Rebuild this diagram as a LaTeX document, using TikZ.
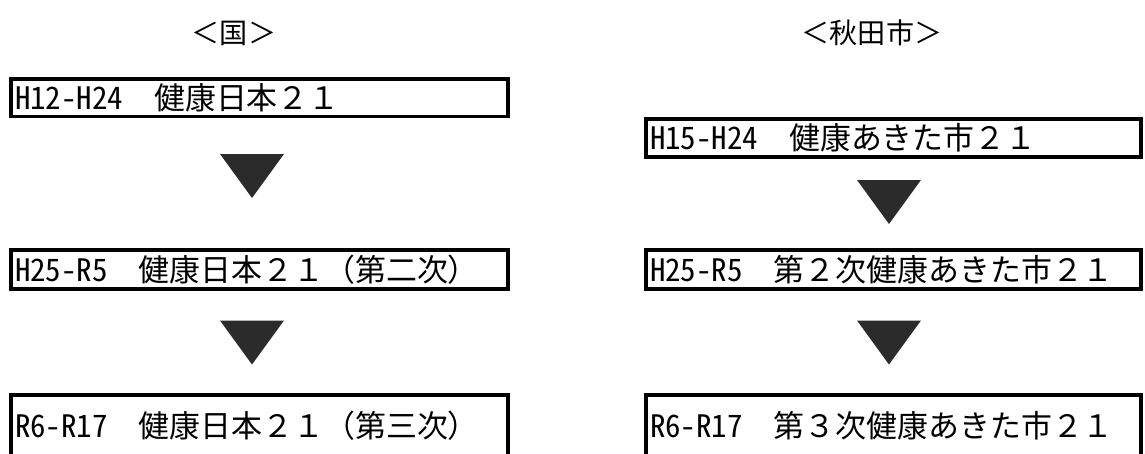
\documentclass[tikz,border=0pt]{standalone}
\usepackage{fontspec}
\setmainfont{Noto Sans CJK JP}
\newfontfamily\hankaku[CharacterWidth=Half]{Noto Sans CJK JP}
\newcommand{\hw}[1]{{\hankaku #1}}
\definecolor{markgray}{RGB}{43,43,43}
\pgfdeclarelayer{nodelayer}
\pgfdeclarelayer{edgelayer}
\pgfsetlayers{edgelayer,nodelayer,main}
\tikzstyle{plan box}=[draw=black, line width=0.07cm, shape=rectangle, inner xsep=0.08cm, inner ysep=0pt, font=\fontsize{17.6pt}{20pt}\selectfont]
\tikzstyle{left box}=[style=plan box, minimum width=9.94cm, text width=9.78cm]
\tikzstyle{right box}=[style=plan box, minimum width=9.9cm, text width=9.74cm]
\tikzstyle{title}=[font=\fontsize{16pt}{18pt}\selectfont]
\tikzstyle{none}=[fill=none, draw=none, shape=circle, scale=0]
\tikzstyle{down mark}=[fill=markgray, draw=none]

\begin{document}
\begin{tikzpicture}[x=0.02cm, y=-0.02cm]
	\useasboundingbox (0, 0) rectangle (1145, 453);
	\begin{pgfonlayer}{nodelayer}
		\clip (0, 0) rectangle (1145, 453);
		\node [style=title] (0) at (234, 33) {＜国＞};
		\node [style=title] (1) at (872, 33) {＜秋田市＞};
		\node [style=left box, minimum height=0.75cm] (2) at (259.5, 97.75) {\hw{H12-H24}　健康日本２１};
		\node [style=left box, minimum height=0.78cm] (3) at (259.5, 269.5) {\hw{H25-R5}　健康日本２１（第二次）};
		\node [style=left box, minimum height=1.24cm] (4) at (259.5, 426) {\hw{R6-R17}　健康日本２１（第三次）};
		\node [style=right box, minimum height=0.76cm] (5) at (893.5, 138) {\hw{H15-H24}　健康あきた市２１};
		\node [style=right box, minimum height=0.78cm] (6) at (893.5, 269.5) {\hw{H25-R5}　第２次健康あきた市２１};
		\node [style=right box, minimum height=1.24cm] (7) at (893.5, 426) {\hw{R6-R17}　第３次健康あきた市２１};
		\node [style=none] (8) at (252, 176) {};
		\node [style=none] (9) at (252, 342.5) {};
		\node [style=none] (10) at (889, 202) {};
		\node [style=none] (11) at (889, 342.5) {};
	\end{pgfonlayer}
	\begin{pgfonlayer}{edgelayer}
		\fill [white] (0, 0) rectangle (1145, 453);
		\fill [style=down mark] (8.center) ++(-32, -22) -- ++(64, 0) -- ++(-32, 44) -- cycle;
		\fill [style=down mark] (9.center) ++(-32, -22) -- ++(64, 0) -- ++(-32, 44) -- cycle;
		\fill [style=down mark] (10.center) ++(-32, -22) -- ++(64, 0) -- ++(-32, 44) -- cycle;
		\fill [style=down mark] (11.center) ++(-32, -22) -- ++(64, 0) -- ++(-32, 44) -- cycle;
	\end{pgfonlayer}
\end{tikzpicture}
\end{document}
